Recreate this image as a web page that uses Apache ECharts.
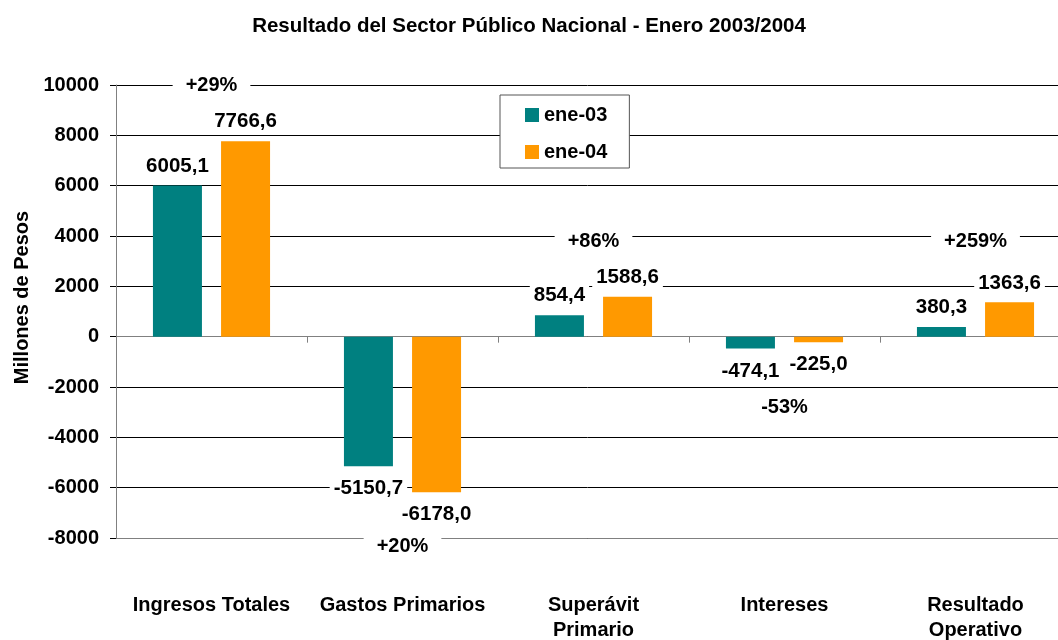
<!DOCTYPE html>
<html>
<head>
<meta charset="utf-8">
<script src="https://cdn.jsdelivr.net/npm/echarts@6/dist/echarts.min.js"></script>
<style>
  html, body { margin: 0; padding: 0; background: #fff; }
  #chart { width: 1058px; height: 640px; }
</style>
</head>
<body>
<div id="chart"></div>
<script>
// datos
const categories = ['Ingresos Totales', 'Gastos Primarios', 'Superávit\nPrimario', 'Intereses', 'Resultado\nOperativo'];
const ene03 = [6005.1, -5150.7, 854.4, -474.1, 380.3];
const ene04 = [7766.6, -6178.0, 1588.6, -225.0, 1363.6];
// variacion porcentual y altura aproximada de la etiqueta
const changeLabels = ['+29%', '+20%', '+86%', '-53%', '+259%'];
const changeLevels = [10000, -8350, 3800, -2800, 3780];
const yMin = -8000, yMax = 10000, yStep = 2000;

const FONT = 'Arial, "Liberation Sans", sans-serif';
const TEAL = '#008080';
const ORANGE = '#FF9900';

// formato con coma decimal
function fmt(v) {
    return v.toFixed(1).replace('.', ',');
}

// cada barra lleva la etiqueta arriba o abajo segun el signo
function barData(values) {
    return values.map(v => ({
        value: v,
        label: v < 0 ? { position: 'bottom', distance: 11 } : { position: 'top', distance: 8 }
    }));
}

const barLabel = {
    show: true,
    formatter: p => fmt(p.value),
    color: '#000',
    fontFamily: FONT,
    fontWeight: 'bold',
    fontSize: 20.5,
    backgroundColor: '#fff',
    padding: [1, 4]
};

var myChart = echarts.init(document.getElementById('chart'));
var option = {
    animation: false,
    title: {
        text: 'Resultado del Sector Público Nacional - Enero 2003/2004',
        left: 'center',
        top: 11,
        textStyle: { fontFamily: FONT, fontWeight: 'bold', fontSize: 20.5, color: '#000' }
    },
    legend: {
        data: ['ene-03', 'ene-04'],
        orient: 'vertical',
        left: 500,
        top: 95,
        padding: [10, 22, 6, 25],
        itemWidth: 14,
        itemHeight: 14,
        itemGap: 17,
        icon: 'rect',
        backgroundColor: '#fff',
        borderColor: '#555',
        borderWidth: 1,
        textStyle: { fontFamily: FONT, fontWeight: 'bold', fontSize: 20, color: '#000' }
    },
    grid: {
        left: 116,
        top: 85,
        bottom: 102,
        width: 955,
        outerBoundsMode: 'none'
    },
    xAxis: [
        {
            // linea del cero con marcas entre categorias
            type: 'category',
            data: categories,
            axisLine: { onZero: true, lineStyle: { color: '#808080', width: 1 } },
            axisTick: { show: true, length: 6, lineStyle: { color: '#808080' } },
            axisLabel: { show: false },
            splitLine: { show: false }
        },
        {
            // eje inferior solo para los nombres
            type: 'category',
            data: categories,
            position: 'bottom',
            axisLine: { onZero: false, lineStyle: { color: '#808080', width: 1 } },
            axisTick: { show: false },
            axisLabel: {
                interval: 0,
                margin: 55,
                color: '#000',
                fontFamily: FONT,
                fontWeight: 'bold',
                fontSize: 20,
                lineHeight: 25
            },
            splitLine: { show: false }
        }
    ],
    yAxis: {
        type: 'value',
        min: yMin,
        max: yMax,
        interval: yStep,
        name: 'Millones de Pesos',
        nameLocation: 'middle',
        nameGap: 84,
        nameTextStyle: {
            fontFamily: FONT, fontWeight: 'bold', fontSize: 20, color: '#000',
            padding: [0, 0, 0, 28]
        },
        axisLine: { show: true, lineStyle: { color: '#808080' } },
        axisTick: { show: true, length: 6, lineStyle: { color: '#000' } },
        axisLabel: {
            margin: 17,
            formatter: v => String(v),
            color: '#000',
            fontFamily: FONT,
            fontWeight: 'bold',
            fontSize: 20
        },
        splitLine: { show: true, lineStyle: { color: '#000', width: 1 } }
    },
    series: [
        {
            name: 'ene-03',
            type: 'bar',
            xAxisIndex: 0,
            data: barData(ene03),
            barWidth: 49,
            barGap: '39%',
            itemStyle: { color: TEAL },
            label: barLabel,
            z: 3
        },
        {
            name: 'ene-04',
            type: 'bar',
            xAxisIndex: 0,
            data: barData(ene04),
            barWidth: 49,
            barGap: '39%',
            itemStyle: { color: ORANGE },
            label: barLabel,
            z: 3
        },
        {
            // variaciones porcentuales
            name: 'variacion',
            type: 'scatter',
            xAxisIndex: 0,
            clip: false,
            symbolSize: 0,
            silent: true,
            itemStyle: { opacity: 1 },
            data: changeLevels.map((v, i) => [i, v]),
            label: {
                show: true,
                position: 'inside',
                formatter: p => changeLabels[p.dataIndex],
                color: '#000',
                fontFamily: FONT,
                fontWeight: 'bold',
                fontSize: 20,
                backgroundColor: '#fff',
                padding: [2, 13]
            },
            z: 4
        }
    ]
};
myChart.setOption(option);
</script>
</body>
</html>
